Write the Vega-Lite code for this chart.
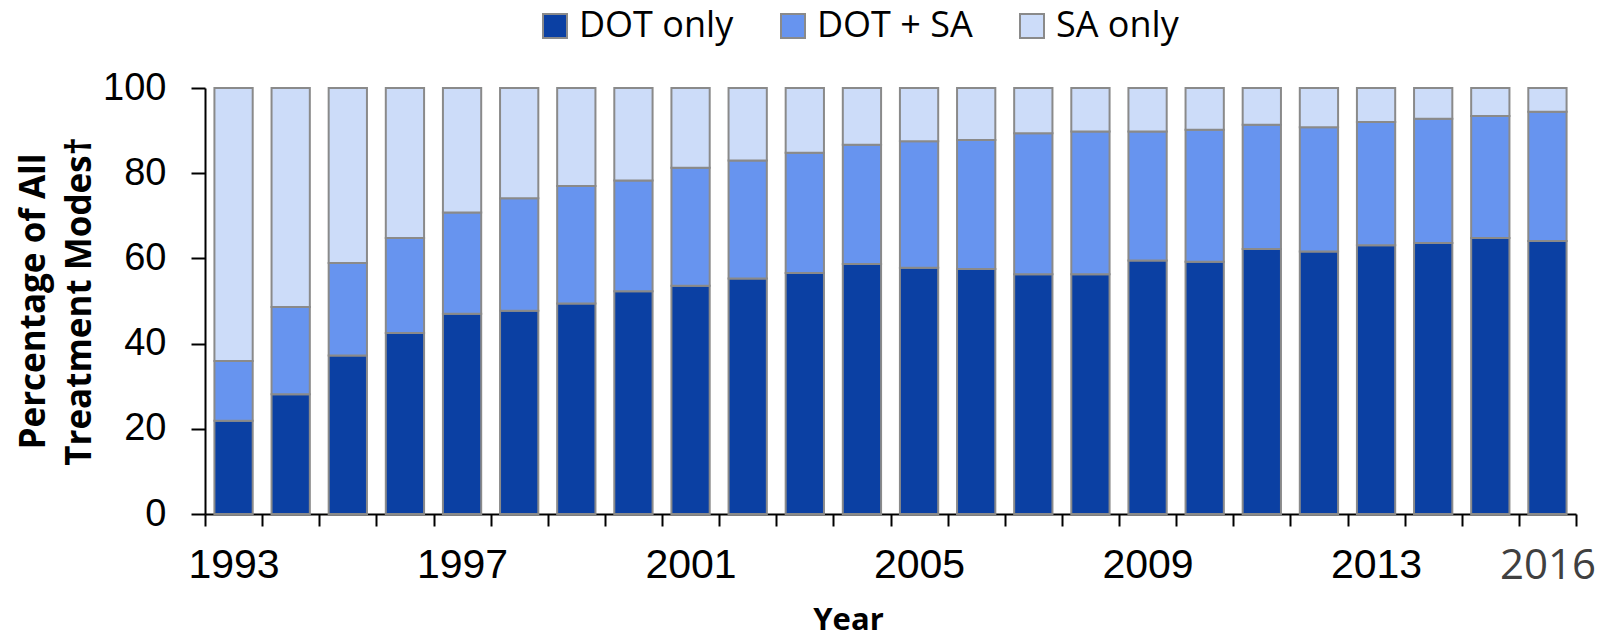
{
  "$schema": "https://vega.github.io/schema/vega-lite/v6.json",
  "autosize": {"type": "none"},
  "width": 1371,
  "height": 426,
  "padding": {"left": 205, "top": 88, "right": 40, "bottom": 124},
  "background": "white",
  "config": {"view": {"stroke": null}},
  "data": {
    "values": [
      {"Year": 1993, "DOT only": 21.9, "DOT + SA": 14.0, "SA only": 64.1},
      {"Year": 1994, "DOT only": 28.1, "DOT + SA": 20.5, "SA only": 51.4},
      {"Year": 1995, "DOT only": 37.2, "DOT + SA": 21.7, "SA only": 41.1},
      {"Year": 1996, "DOT only": 42.5, "DOT + SA": 22.3, "SA only": 35.2},
      {"Year": 1997, "DOT only": 47.0, "DOT + SA": 23.8, "SA only": 29.2},
      {"Year": 1998, "DOT only": 47.7, "DOT + SA": 26.4, "SA only": 25.9},
      {"Year": 1999, "DOT only": 49.4, "DOT + SA": 27.6, "SA only": 23.0},
      {"Year": 2000, "DOT only": 52.3, "DOT + SA": 26.0, "SA only": 21.7},
      {"Year": 2001, "DOT only": 53.6, "DOT + SA": 27.7, "SA only": 18.7},
      {"Year": 2002, "DOT only": 55.3, "DOT + SA": 27.7, "SA only": 17.0},
      {"Year": 2003, "DOT only": 56.6, "DOT + SA": 28.2, "SA only": 15.2},
      {"Year": 2004, "DOT only": 58.7, "DOT + SA": 28.0, "SA only": 13.3},
      {"Year": 2005, "DOT only": 57.8, "DOT + SA": 29.7, "SA only": 12.5},
      {"Year": 2006, "DOT only": 57.5, "DOT + SA": 30.3, "SA only": 12.2},
      {"Year": 2007, "DOT only": 56.3, "DOT + SA": 33.1, "SA only": 10.6},
      {"Year": 2008, "DOT only": 56.3, "DOT + SA": 33.5, "SA only": 10.2},
      {"Year": 2009, "DOT only": 59.5, "DOT + SA": 30.3, "SA only": 10.2},
      {"Year": 2010, "DOT only": 59.2, "DOT + SA": 31.0, "SA only": 9.8},
      {"Year": 2011, "DOT only": 62.2, "DOT + SA": 29.2, "SA only": 8.6},
      {"Year": 2012, "DOT only": 61.6, "DOT + SA": 29.2, "SA only": 9.2},
      {"Year": 2013, "DOT only": 63.1, "DOT + SA": 28.9, "SA only": 8.0},
      {"Year": 2014, "DOT only": 63.6, "DOT + SA": 29.2, "SA only": 7.2},
      {"Year": 2015, "DOT only": 64.8, "DOT + SA": 28.6, "SA only": 6.6},
      {"Year": 2016, "DOT only": 64.1, "DOT + SA": 30.3, "SA only": 5.6}
    ]
  },
  "transform": [
    {"fold": ["DOT only", "DOT + SA", "SA only"], "as": ["Mode", "Pct"]},
    {"calculate": "indexof(['DOT only','DOT + SA','SA only'], datum.Mode)", "as": "stackOrder"}
  ],
  "mark": {"type": "bar", "stroke": "#8A8A8A", "strokeWidth": 2, "width": {"band": 0.67}},
  "encoding": {
    "x": {
      "field": "Year",
      "type": "ordinal",
      "scale": {"paddingInner": 0, "paddingOuter": 0},
      "axis": {
        "title": "Year",
        "titleFont": "Open Sans",
        "titleFontWeight": "bold",
        "titleFontSize": 31,
        "titleColor": "black",
        "titleX": 643,
        "titleY": 115,
        "titleBaseline": "alphabetic",
        "titleAlign": "center",
        "titleAnchor": null,
        "domainColor": "black",
        "domainWidth": 2,
        "tickColor": "black",
        "tickWidth": 2,
        "tickSize": 12,
        "tickBand": "extent",
        "labelAngle": 0,
        "labelOverlap": false,
        "labelFlush": false,
        "labelBound": false,
        "labelPadding": 19,
        "labelBaseline": "top",
        "labelFontSize": {"condition": {"test": "datum.value == 2016", "value": 42}, "value": 41},
        "labelFont": {"condition": {"test": "datum.value == 2016", "value": "Open Sans"}, "value": "Liberation Sans"},
        "labelColor": {"condition": {"test": "datum.value == 2016", "value": "#404040"}, "value": "black"},
        "labelExpr": "indexof([1993,1997,2001,2005,2009,2013,2016], datum.value) >= 0 ? datum.label : ''",
        "grid": false
      }
    },
    "y": {
      "field": "Pct",
      "type": "quantitative",
      "stack": "zero",
      "scale": {"domain": [0, 100], "nice": false},
      "axis": {
        "title": ["Percentage of All", "Treatment Modes†"],
        "titleFont": "Open Sans",
        "titleFontWeight": "bold",
        "titleFontSize": 35,
        "titleColor": "black",
        "titleLineHeight": 46,
        "titleBaseline": "alphabetic",
        "titleAlign": "center",
        "titleAngle": -90,
        "titleX": -161,
        "titleY": 213,
        "values": [0, 20, 40, 60, 80, 100],
        "domainColor": "black",
        "domainWidth": 2,
        "tickColor": "black",
        "tickWidth": 2,
        "tickSize": 14,
        "labelFont": "Liberation Sans",
        "labelFontSize": 38,
        "labelColor": "black",
        "labelPadding": 25,
        "labelFlush": false,
        "labelBound": false,
        "labelOverlap": false,
        "grid": false
      }
    },
    "color": {
      "field": "Mode",
      "type": "nominal",
      "scale": {
        "domain": ["DOT only", "DOT + SA", "SA only"],
        "range": ["#0B40A3", "#6794EF", "#CCDCF9"]
      },
      "legend": {
        "title": null,
        "orient": "none",
        "direction": "horizontal",
        "legendX": 332,
        "legendY": -80,
        "padding": 0,
        "symbolType": "square",
        "symbolSize": 576,
        "symbolStrokeColor": "#8A8A8A",
        "symbolStrokeWidth": 2,
        "symbolOpacity": 1,
        "labelFont": "Open Sans",
        "labelFontSize": 36,
        "labelColor": "black",
        "labelOffset": 6,
        "columnPadding": 41,
        "labelLimit": 400
      }
    },
    "order": {"field": "stackOrder", "type": "quantitative", "sort": "ascending"}
  }
}
